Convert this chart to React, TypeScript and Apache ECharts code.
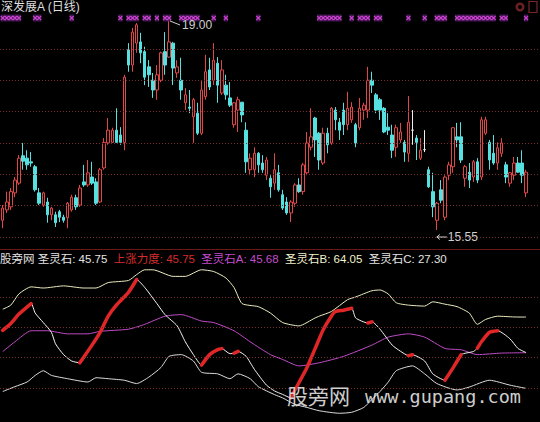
import React, { useEffect, useRef } from "react";
import * as echarts from "echarts";

// Daily bars: [open, close, low, high]
const bars: [number, number, number, number][] = [
  [15.71, 15.91, 15.58, 15.96], [15.88, 16.01, 15.83, 16.18], [15.93, 16.18, 15.88, 16.24], [16.16, 16.37, 16.09, 16.42],
  [16.32, 16.73, 16.29, 16.78], [16.77, 16.68, 16.54, 16.98], [16.73, 16.62, 16.54, 16.86], [16.67, 16.65, 16.59, 16.83],
  [16.59, 16.21, 16.18, 16.62], [16.16, 15.99, 15.96, 16.24], [15.96, 16.16, 15.93, 16.18], [16.01, 15.80, 15.67, 16.08],
  [15.80, 15.91, 15.71, 15.93], [15.80, 15.67, 15.60, 15.85], [15.85, 15.76, 15.68, 15.88], [15.76, 15.71, 15.67, 15.80],
  [15.75, 15.99, 15.58, 16.01], [15.88, 16.09, 15.85, 16.13], [16.08, 15.93, 15.88, 16.13], [15.96, 16.24, 15.93, 16.29],
  [16.34, 16.29, 16.26, 16.62], [16.29, 16.49, 16.26, 16.70], [16.42, 16.32, 16.29, 16.67], [16.34, 15.99, 15.96, 16.40],
  [16.01, 16.54, 15.99, 16.57], [16.57, 16.99, 16.54, 17.06], [16.98, 17.19, 16.95, 17.39], [16.99, 17.19, 16.98, 17.23],
  [17.19, 16.99, 16.98, 17.55], [17.11, 16.99, 16.95, 17.24], [16.99, 18.06, 16.86, 18.10], [18.51, 18.26, 18.15, 18.62],
  [18.26, 18.80, 18.15, 18.87], [18.62, 18.92, 18.46, 18.95], [18.64, 18.46, 18.29, 18.79], [18.48, 18.06, 17.93, 18.56],
  [18.23, 18.10, 17.90, 18.34], [18.01, 17.85, 17.72, 18.13], [17.85, 18.10, 17.69, 18.26], [18.01, 18.46, 17.98, 18.48],
  [18.48, 18.26, 18.10, 18.80], [18.39, 18.64, 18.38, 19.00], [18.62, 18.21, 17.93, 18.64], [18.13, 18.23, 18.05, 18.34],
  [18.01, 17.85, 17.69, 18.38], [17.64, 17.77, 17.52, 17.88], [17.57, 17.55, 17.47, 17.85], [17.41, 17.69, 16.98, 17.72],
  [17.47, 17.14, 17.11, 17.64], [17.14, 17.85, 17.11, 18.01], [17.74, 18.15, 17.69, 18.43], [18.18, 17.90, 17.85, 18.38],
  [18.01, 18.34, 17.93, 18.62], [18.29, 17.93, 17.64, 18.39], [17.80, 18.18, 17.77, 18.34], [17.93, 17.77, 17.69, 18.10],
  [17.72, 17.60, 17.57, 17.98], [17.28, 17.64, 17.23, 17.65], [17.52, 17.69, 17.16, 17.74], [17.65, 17.44, 17.32, 17.65],
  [17.19, 16.67, 16.49, 17.32], [16.54, 16.73, 16.45, 16.81], [16.54, 16.81, 16.42, 16.91], [16.81, 16.62, 16.49, 16.83],
  [16.65, 16.54, 16.49, 16.78], [16.45, 16.70, 16.37, 16.75], [16.40, 16.26, 16.08, 16.45], [16.32, 16.54, 16.21, 16.81],
  [16.49, 16.21, 16.18, 16.62], [16.13, 15.91, 15.88, 16.21], [16.01, 15.83, 15.80, 16.09], [15.83, 16.01, 15.68, 16.04],
  [15.99, 16.29, 15.93, 16.32], [16.29, 16.18, 16.16, 16.40], [16.18, 16.62, 16.13, 16.65], [16.49, 16.98, 16.45, 17.16],
  [16.91, 17.08, 16.86, 17.55], [17.39, 17.03, 16.75, 17.41], [17.14, 16.70, 16.54, 17.16], [16.65, 17.14, 16.62, 17.23],
  [17.14, 16.95, 16.81, 17.23], [16.98, 17.55, 16.95, 17.57], [17.52, 17.36, 17.19, 17.57], [17.32, 17.19, 17.03, 17.39],
  [17.52, 17.28, 17.11, 17.64], [17.28, 17.55, 17.19, 17.82], [17.36, 17.57, 17.31, 17.65], [17.28, 16.98, 16.91, 17.31],
  [17.23, 17.55, 17.19, 17.72], [17.52, 17.60, 17.36, 17.64], [17.52, 18.01, 17.39, 18.23], [18.01, 17.93, 17.80, 18.15],
  [17.77, 17.52, 17.47, 17.80], [17.69, 17.52, 17.36, 17.72], [17.55, 17.16, 17.14, 17.57], [17.24, 17.19, 17.11, 17.47],
  [17.11, 16.86, 16.73, 17.28], [16.91, 17.23, 16.75, 17.28], [17.03, 17.16, 16.98, 17.31], [16.99, 16.83, 16.67, 17.03],
  [16.81, 17.32, 16.67, 17.75], [17.19, 17.19, 16.95, 17.52], [17.06, 16.99, 16.70, 17.11], [16.73, 16.86, 16.70, 17.06],
  [16.87, 16.87, 16.83, 17.19], [16.54, 16.26, 16.24, 16.59], [16.18, 15.93, 15.76, 16.49], [15.71, 15.99, 15.55, 16.01],
  [16.21, 16.04, 15.99, 16.37], [15.76, 16.42, 15.71, 16.45], [16.45, 16.62, 16.37, 16.67], [16.59, 17.23, 16.49, 17.24],
  [17.08, 17.03, 16.91, 17.31], [17.08, 16.70, 16.65, 17.32], [16.40, 16.59, 16.26, 16.62], [16.50, 16.37, 16.24, 16.65],
  [16.42, 16.67, 16.34, 16.70], [16.67, 16.37, 16.32, 16.73], [16.42, 17.36, 16.37, 17.41], [17.14, 17.36, 17.11, 17.41],
  [16.99, 16.70, 16.54, 17.03], [16.81, 16.65, 16.62, 17.11], [16.65, 16.90, 16.54, 16.99], [16.81, 16.98, 16.75, 17.06],
  [16.62, 16.42, 16.32, 16.67], [16.32, 16.49, 16.26, 16.50], [16.45, 16.65, 16.37, 16.75], [16.65, 16.50, 16.49, 16.75],
  [16.65, 16.45, 16.32, 16.86], [16.16, 16.50, 16.09, 16.54],
];

// Bars that opened and closed at the same price (drawn white)
const flatBars = [101, 104];

// Bars flagged in the signal row above the price panel
const signalBars = [
  0, 1, 2, 3, 4, 8, 9, 17, 29, 31, 32, 33, 35, 36, 38, 40, 41, 44, 45, 46, 47, 48, 52, 55, 63,
  78, 79, 80, 81, 82, 83, 86, 88, 89, 90, 92, 93, 100, 104, 107, 108, 109,
  112, 113, 114, 115, 116, 117, 118, 119, 120, 121, 123, 124, 129,
];

// Indicator lines, [bar index, value]
const lineB: [number, number][] = [
  [0, 68.1], [2, 70.2], [4, 76.0], [7, 79.6], [10, 79.0], [15, 80.1], [20, 79.0], [23, 79.0], [26, 81.8],
  [31, 82.9], [33, 85.9], [35, 88.4], [37, 88.4], [42, 85.0], [45, 85.0], [49, 88.4], [52, 87.5], [55, 84.2],
  [57, 79.3], [59, 71.0], [63, 69.4], [66, 66.1], [69, 61.2], [73, 59.5], [77, 63.6], [78, 64.5], [81, 66.9],
  [85, 73.0], [87, 74.4], [91, 77.6], [93, 78.0], [95, 76.0], [97, 71.4], [100, 70.2], [104, 69.7], [106, 71.9],
  [109, 70.7], [112, 69.4], [115, 66.1], [117, 60.3], [119, 62.8], [122, 64.5], [126, 64.1], [129, 64.05],
];

const lineMain: [number, number][] = [
  [0, 57.2], [2, 60.7], [4, 65.6], [7, 71.0], [8, 66.1], [10, 61.2], [12, 56.2], [13, 50.3], [15, 44.7],
  [17, 41.4], [19, 40.5], [22, 49.6], [24, 56.2], [26, 64.5], [28, 70.2], [31, 76.8], [33, 83.4], [35, 79.3],
  [38, 71.0], [40, 65.3], [43, 59.5], [45, 51.3], [47, 44.7], [49, 39.3], [51, 44.7], [53, 47.3], [54, 47.8],
  [56, 45.2], [57, 45.4], [58, 46.4], [60, 43.8], [62, 37.2], [65, 29.0], [67, 26.0], [69, 24.2], [71, 22.4],
  [73, 30.2], [75, 38.1], [77, 47.8], [79, 57.5], [81, 64.5], [82, 66.9], [84, 67.6], [86, 68.6], [87, 63.6],
  [90, 61.0], [91, 61.6], [93, 57.8], [96, 49.6], [98, 46.5], [100, 44.2], [101, 44.6], [104, 41.4], [106, 34.8],
  [109, 31.5], [111, 37.9], [113, 44.7], [116, 46.3], [117, 48.0], [118, 51.3], [120, 56.2], [122, 57.0],
  [125, 52.9], [127, 47.9], [129, 45.75],
];

const lineA: [number, number][] = [
  [0, 46.3], [3, 51.3], [7, 57.0], [11, 57.0], [16, 55.4], [21, 55.4], [24, 56.7], [31, 57.8], [35, 60.3],
  [40, 64.5], [44, 65.3], [49, 62.0], [52, 61.2], [57, 57.0], [61, 51.3], [66, 44.7], [69, 42.2], [73, 38.9],
  [78, 40.5], [84, 43.8], [91, 49.6], [95, 53.7], [100, 55.4], [104, 53.7], [109, 47.9], [113, 47.2],
  [117, 44.7], [123, 45.5], [129, 45.68],
];

const lineC: [number, number][] = [
  [0, 25.7], [3, 28.2], [6, 30.6], [8, 34.0], [10, 36.4], [12, 34.0], [16, 32.3], [21, 30.6], [23, 32.8],
  [26, 32.3], [30, 31.5], [33, 29.8], [36, 33.1], [39, 38.1], [41, 43.8], [44, 44.7], [47, 41.4], [49, 35.6],
  [53, 34.8], [56, 32.3], [58, 34.8], [61, 32.3], [63, 28.2], [67, 24.1], [69, 22.4], [72, 19.1], [75, 17.5],
  [78, 15.8], [83, 14.5], [86, 15.0], [89, 17.5], [91, 21.6], [93, 25.7], [95, 30.5], [97, 36.4], [101, 38.9],
  [104, 34.8], [107, 29.8], [112, 26.5], [115, 28.0], [120, 31.5], [125, 29.0], [129, 27.3],
];

// Rising stretches of the main line (上涨力度)
const riseSegments: [number, number][][] = [
  [[0, 57.2], [2, 60.7], [4, 65.6], [7, 71.0]],
  [[19, 40.5], [22, 49.6], [24, 56.2], [26, 64.5], [28, 70.2], [31, 76.8], [33, 83.4]],
  [[49, 39.3], [51, 44.7], [53, 47.3], [54, 47.8]],
  [[57, 45.4], [58, 46.4]],
  [[71, 22.4], [73, 30.2], [75, 38.1], [77, 47.8], [79, 57.5], [81, 64.5], [82, 66.9], [84, 67.6], [86, 68.6]],
  [[90, 61.0], [91, 61.6]],
  [[100, 44.2], [101, 44.6]],
  [[109, 31.5], [111, 37.9], [113, 44.7]],
  [[117, 48.0], [118, 51.3], [120, 56.2], [122, 57.0]],
  [[129, 45.75]],
];

// Dotted guide levels: six bands in the price panel, three in the indicator panel
const priceBands = [0, 1, 2, 3, 4, 5, 6];
const indicatorBands = [0, 1, 2, 3];

const stockTitle = "深发展A (日线)";
const panelName = "股旁网";
const watermarkName = "股旁网";
const watermarkUrl = "www.gupang.com";

const UP = "#e04848";
const DOWN = "#56e0e0";
const FLAT = "#eeeeee";
const GRID_DOT = "#7a3030";
const FONT = '"Liberation Sans", "Noto Sans CJK SC", sans-serif';
const PLOT_LEFT = 0.7;
const PLOT_WIDTH = 527.4;

const lastOf = (arr: [number, number][]) => arr[arr.length - 1][1].toFixed(2);

export default function App() {
  const ref = useRef<HTMLDivElement>(null);

  useEffect(() => {
    if (!ref.current) return;
    const chart = echarts.init(ref.current, null, { renderer: "svg" });
    const cats = bars.map((_, i) => String(i));

    const riseData: any[] = [];
    riseSegments.forEach((seg, k) => {
      if (k > 0) riseData.push([seg[0][0] - 0.5, "-"]);
      seg.forEach((p) => riseData.push(p));
    });

    const candleData = bars.map((b, i) =>
      flatBars.includes(i)
        ? { value: b, itemStyle: { color: FLAT, color0: FLAT, borderColor: FLAT, borderColor0: FLAT } }
        : b
    );

    const hiddenAxis = { show: false };
    const guideSeries = (xi: number, yi: number, levels: number[]) => ({
      type: "line",
      xAxisIndex: xi,
      yAxisIndex: yi,
      data: [],
      silent: true,
      markLine: {
        silent: true,
        symbol: "none",
        label: { show: false },
        lineStyle: { color: GRID_DOT, type: [1, 2], width: 1 },
        data: levels.map((v) => ({ yAxis: v })),
      },
    });

    const sep = "  ";
    const labelRow =
      `{w|${panelName} 圣灵石: ${lastOf(lineMain)}}${sep}` +
      `{r|上涨力度: ${lastOf(riseSegments[riseSegments.length - 1])}}${sep}` +
      `{m|圣灵石A: ${lastOf(lineA)}}${sep}` +
      `{y|圣灵石B: ${lastOf(lineB)}}${sep}` +
      `{w|圣灵石C: ${lastOf(lineC)}}`;
    const rowFont = `11.5px ${FONT}`;

    const baseGraphics: any[] = [
      {
        type: "text", x: 1, y: 7, z: 10,
        style: { text: stockTitle, fill: "#dedede", font: `12px ${FONT}`, verticalAlign: "middle" },
      },
      {
        type: "ring", x: 520, y: 7, z: 10,
        shape: { r: 4.5, r0: 2 }, style: { fill: "#6a2020" },
      },
      {
        type: "rect", x: 529, y: 1.5, z: 10,
        shape: { width: 8, height: 11 }, style: { fill: "none", stroke: "#7a2626", lineWidth: 1.2 },
      },
      {
        type: "line", z: 10,
        shape: { x1: 0, y1: 249.5, x2: 540, y2: 249.5 }, style: { stroke: "#6a1818", lineWidth: 1 },
      },
      {
        type: "text", x: 0, y: 258.5, z: 10,
        style: {
          text: labelRow,
          font: rowFont,
          fill: "#e4e4e4",
          verticalAlign: "middle",
          rich: {
            w: { fill: "#e4e4e4", font: rowFont },
            r: { fill: "#d42c2c", font: rowFont },
            m: { fill: "#c44ccc", font: rowFont },
            y: { fill: "#f2f2cc", font: rowFont },
          },
        },
      },
      {
        type: "text", x: 287, y: 395, z: 20,
        style: { text: watermarkName, fill: "rgba(226,226,226,0.92)", font: `21px "Noto Sans CJK SC"`, verticalAlign: "middle" },
      },
      {
        type: "text", x: 365, y: 396, z: 20,
        style: { text: watermarkUrl, fill: "rgba(226,226,226,0.92)", font: `18.5px "DejaVu Sans Mono"`, verticalAlign: "middle" },
      },
    ];

    chart.setOption({
      animation: false,
      backgroundColor: "#000",
      grid: [
        { left: PLOT_LEFT, width: PLOT_WIDTH, top: 20, height: 210 },
        { left: 0, right: 0, top: 49, height: 188 },
        { left: PLOT_LEFT, width: PLOT_WIDTH, top: 14, height: 8 },
        { left: 0, right: 0, top: 297, height: 91 },
        { left: PLOT_LEFT, width: PLOT_WIDTH, top: 266.67, height: 161.76 },
      ],
      xAxis: [
        { gridIndex: 0, type: "category", data: cats, boundaryGap: true, ...hiddenAxis },
        { gridIndex: 1, type: "value", min: 0, max: 1, ...hiddenAxis },
        { gridIndex: 2, type: "category", data: cats, boundaryGap: true, ...hiddenAxis },
        { gridIndex: 3, type: "value", min: 0, max: 1, ...hiddenAxis },
        { gridIndex: 4, type: "value", min: -0.5, max: bars.length - 0.5, ...hiddenAxis },
      ],
      yAxis: [
        { gridIndex: 0, type: "value", min: 15.55, max: 19.0, ...hiddenAxis },
        { gridIndex: 1, type: "value", min: 0, max: 6, ...hiddenAxis },
        { gridIndex: 2, type: "value", min: 0, max: 1, ...hiddenAxis },
        { gridIndex: 3, type: "value", min: 0, max: 3, ...hiddenAxis },
        { gridIndex: 4, type: "value", min: 10, max: 90, ...hiddenAxis },
      ],
      series: [
        guideSeries(1, 1, priceBands),
        guideSeries(3, 3, indicatorBands),
        {
          type: "candlestick",
          xAxisIndex: 0,
          yAxisIndex: 0,
          barWidth: 3,
          clip: false,
          data: candleData,
          itemStyle: { color: "#000", color0: DOWN, borderColor: UP, borderColor0: DOWN, borderWidth: 1 },
        },
        {
          type: "scatter",
          xAxisIndex: 2,
          yAxisIndex: 2,
          symbol: "rect",
          symbolSize: [4.3, 7],
          itemStyle: { color: "#4e1a62" },
          data: signalBars.map((i) => [i, 0.5]),
          z: 2,
        },
        {
          type: "scatter",
          xAxisIndex: 2,
          yAxisIndex: 2,
          symbol: "path://M0,0L10,10M10,0L0,10",
          symbolSize: [4, 4],
          itemStyle: { color: "rgba(0,0,0,0)", borderColor: "#ec4cec", borderWidth: 1.2 },
          data: signalBars.map((i) => [i, 0.5]),
          z: 3,
        },
        {
          type: "line", xAxisIndex: 4, yAxisIndex: 4, data: lineA, showSymbol: false, smooth: 0.2,
          lineStyle: { color: "#c14cc8", width: 1 },
        },
        {
          type: "line", xAxisIndex: 4, yAxisIndex: 4, data: lineB, showSymbol: false, smooth: 0.2,
          lineStyle: { color: "#ececc0", width: 1 },
        },
        {
          type: "line", xAxisIndex: 4, yAxisIndex: 4, data: lineC, showSymbol: false, smooth: 0.2,
          lineStyle: { color: "#dcdcdc", width: 1 },
        },
        {
          type: "line", xAxisIndex: 4, yAxisIndex: 4, data: lineMain, showSymbol: false, smooth: 0.2,
          lineStyle: { color: "#f4f4f4", width: 1 },
        },
        {
          type: "line", xAxisIndex: 4, yAxisIndex: 4, data: riseData, showSymbol: false, smooth: 0.2,
          connectNulls: false,
          lineStyle: { color: "#e02626", width: 3.5, cap: "round" },
        },
      ],
      graphic: baseGraphics,
    });

    // Annotate the highest high and the lowest low
    let hiIdx = 0;
    let loIdx = 0;
    bars.forEach((b, i) => {
      if (b[3] > bars[hiIdx][3]) hiIdx = i;
      if (b[2] < bars[loIdx][2]) loIdx = i;
    });
    const hp = chart.convertToPixel({ xAxisIndex: 0, yAxisIndex: 0 }, [hiIdx, bars[hiIdx][3]]) as number[];
    const lp = chart.convertToPixel({ xAxisIndex: 0, yAxisIndex: 0 }, [loIdx, bars[loIdx][2]]) as number[];
    const annoColor = "#cfcfcf";
    chart.setOption({
      graphic: [
        ...baseGraphics,
        {
          type: "line", z: 10,
          shape: { x1: hp[0] + 1, y1: hp[1] + 1, x2: hp[0] + 11, y2: hp[1] + 5 },
          style: { stroke: annoColor, lineWidth: 1 },
        },
        {
          type: "text", x: hp[0] + 13, y: hp[1] + 5, z: 10,
          style: { text: bars[hiIdx][3].toFixed(2), fill: annoColor, font: `12px ${FONT}`, verticalAlign: "middle" },
        },
        {
          type: "line", z: 10,
          shape: { x1: lp[0], y1: lp[1] + 7, x2: lp[0] + 10, y2: lp[1] + 7 },
          style: { stroke: annoColor, lineWidth: 1 },
        },
        {
          type: "polyline", z: 10,
          shape: { points: [[lp[0] + 3, lp[1] + 4.5], [lp[0], lp[1] + 7], [lp[0] + 3, lp[1] + 9.5]] },
          style: { stroke: annoColor, lineWidth: 1, fill: "none" },
        },
        {
          type: "text", x: lp[0] + 11, y: lp[1] + 7, z: 10,
          style: { text: bars[loIdx][2].toFixed(2), fill: annoColor, font: `12px ${FONT}`, verticalAlign: "middle" },
        },
      ],
    });

    return () => chart.dispose();
  }, []);

  return (
    <div
      ref={ref}
      style={{ position: "fixed", left: 0, top: 0, width: 540, height: 422, background: "#000" }}
    />
  );
}
